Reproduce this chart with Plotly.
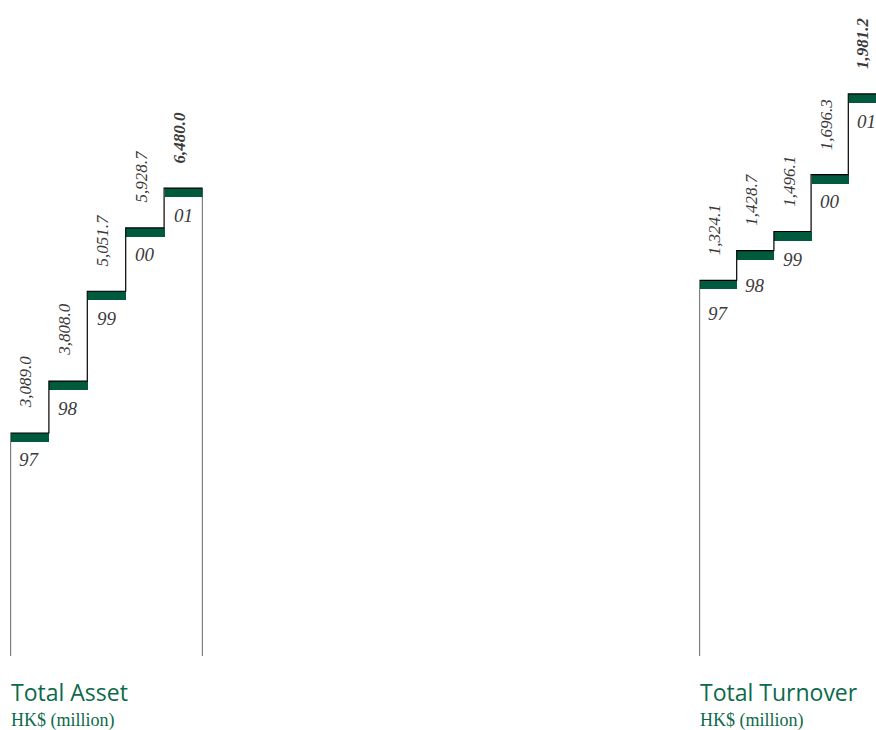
import plotly.graph_objects as go

years = ["97", "98", "99", "00", "01"]
asset_values = [3089.0, 3808.0, 5051.7, 5928.7, 6480.0]
turnover_values = [1324.1, 1428.7, 1496.1, 1696.3, 1981.2]
asset_title = "Total Asset"
turnover_title = "Total Turnover"
unit_label = "HK$ (million)"

W, H = 876, 730
BAR_GREEN = "#005a3d"
TEXT_GREEN = "#0c6a4c"
LABEL_GRAY = "#3a3a3a"
BASE_PX = 656  # baseline pixel from top
Y_DOM0 = (H - BASE_PX) / H
PLOT_PX = H * (1 - Y_DOM0)
THICK_PX = 9

charts = [
    dict(values=asset_values, title=asset_title, xa="x", ya="y",
         xdom=[10.5 / W, 202.5 / W], xrange=[0, 5], ymax=9086, yr_shift=[27, 27, 27, 27, 27]),
    dict(values=turnover_values, title=turnover_title, xa="x2", ya="y2",
         xdom=[699.5 / W, 1.0], xrange=[0, (W - 699.5) / 37.2], ymax=2312, yr_shift=[33, 35, 28, 27, 28]),
]

fig = go.Figure()
annotations = []
for c in charts:
    vals = c["values"]
    n = len(vals)
    thick = THICK_PX * c["ymax"] / PLOT_PX
    centers = [i + 0.5 for i in range(n)]
    fig.add_trace(go.Bar(
        x=centers, y=[-thick] * n, base=vals, width=1.0,
        marker=dict(color=BAR_GREEN, line=dict(width=0)),
        xaxis=c["xa"], yaxis=c["ya"], showlegend=False, hoverinfo="skip",
    ))
    step_x, step_y = [0], [0]
    for i, v in enumerate(vals):
        step_x += [i, i + 1]
        step_y += [v, v]
    step_x.append(n); step_y.append(0)
    fig.add_trace(go.Scatter(
        x=step_x, y=step_y, mode="lines",
        line=dict(color="#000000", width=1.2),
        xaxis=c["xa"], yaxis=c["ya"], showlegend=False, hoverinfo="skip",
    ))
    for i, (v, yr) in enumerate(zip(vals, years)):
        last = i == n - 1
        annotations.append(dict(
            x=i + 0.4, y=v, xref=c["xa"], yref=c["ya"],
            text=f"{v:,.1f}", textangle=-90, showarrow=False,
            xanchor="center", yanchor="bottom", yshift=23,
            font=dict(family="Liberation Serif", size=17, color=LABEL_GRAY,
                      style="italic", weight="bold" if last else "normal"),
        ))
        annotations.append(dict(
            x=i + 0.5, y=v, xref=c["xa"], yref=c["ya"],
            text=yr, showarrow=False, xanchor="center", yanchor="middle",
            yshift=-c["yr_shift"][i],
            font=dict(family="Liberation Serif", size=19, color=LABEL_GRAY, style="italic"),
        ))
    annotations.append(dict(
        x=c["xdom"][0], y=(H - 710) / H, xref="paper", yref="paper",
        text=c["title"], showarrow=False, xanchor="left", yanchor="bottom", xshift=-2,
        font=dict(family="Open Sans", size=23, color=TEXT_GREEN),
    ))
    annotations.append(dict(
        x=c["xdom"][0], y=(H - 733) / H, xref="paper", yref="paper",
        text=unit_label, showarrow=False, xanchor="left", yanchor="bottom", xshift=-2,
        font=dict(family="Liberation Serif", size=18, color=TEXT_GREEN),
    ))

axis_common = dict(showgrid=False, zeroline=False, showticklabels=False, showline=False, ticks="")
fig.update_layout(
    width=W, height=H,
    margin=dict(l=0, r=0, t=0, b=0),
    paper_bgcolor="white", plot_bgcolor="rgba(0,0,0,0)",
    xaxis=dict(domain=charts[0]["xdom"], range=charts[0]["xrange"], anchor="y", **axis_common),
    yaxis=dict(domain=[Y_DOM0, 1], range=[0, charts[0]["ymax"]], anchor="x", **axis_common),
    xaxis2=dict(domain=charts[1]["xdom"], range=charts[1]["xrange"], anchor="y2", **axis_common),
    yaxis2=dict(domain=[Y_DOM0, 1], range=[0, charts[1]["ymax"]], anchor="x2", **axis_common),
    annotations=annotations,
    bargap=0,
)
fig.write_html(
    "out.html",
    config={"displayModeBar": False},
    post_script="document.body.style.margin='0';document.body.style.overflow='hidden';",
)
